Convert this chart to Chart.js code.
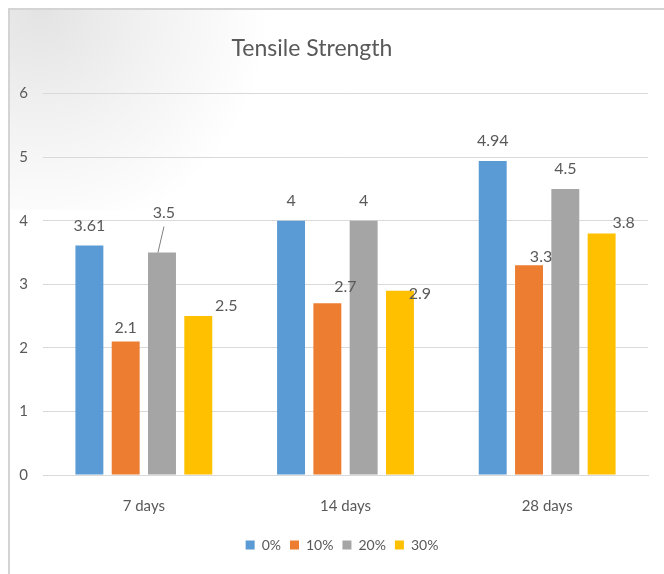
<!DOCTYPE html>
<html>
<head>
<meta charset="utf-8">
<script src="https://cdn.jsdelivr.net/npm/chart.js@4/dist/chart.umd.min.js"></script>
<style>
	html, body { margin: 0; padding: 0; background: #fff; }
	#wrap { width: 664px; height: 574px; position: relative; }
</style>
</head>
<body>
<div id="wrap"><canvas id="myChart"></canvas></div>
<script>
const categories = ['7 days', '14 days', '28 days']
const seriesNames = ['0%', '10%', '20%', '30%']
const pct0 = [3.61, 4, 4.94]
const pct10 = [2.1, 2.7, 3.3]
const pct20 = [3.5, 4, 4.5]
const pct30 = [2.5, 2.9, 3.8]
const yTicks = [0, 1, 2, 3, 4, 5, 6]

const barColors = ['#5B9BD5', '#ED7D31', '#A5A5A5', '#FFC000']
const textColor = '#595959'
const fontFamily = 'Lato, "Open Sans", sans-serif'

// label nudges [dx, dy] per dataset / category, like the hand moved labels in Excel
const labelNudge = [
	[[0, 0], [0, 0], [0, 0]],
	[[0, 6], [18, 3], [12, 12]],
	[[2, -20], [0, 0], [0, 0]],
	[[28, 10], [20, 23], [22, 9]]
]

// background frame + top-left shading
const framePlugin = {
	id: 'frame',
	beforeDraw(chart) {
		const ctx = chart.ctx
		ctx.save()
		ctx.fillStyle = '#fff'
		ctx.fillRect(0, 0, chart.width, chart.height)
		const g = ctx.createRadialGradient(40, 10, 0, 40, 10, 230)
		g.addColorStop(0, 'rgba(0,0,0,0.11)')
		g.addColorStop(0.5, 'rgba(0,0,0,0.05)')
		g.addColorStop(1, 'rgba(0,0,0,0)')
		ctx.fillStyle = g
		ctx.fillRect(10, 10, 300, 200)
		ctx.strokeStyle = '#d4d4d4'
		ctx.lineWidth = 2
		ctx.beginPath()
		ctx.moveTo(9, chart.height)
		ctx.lineTo(9, 9)
		ctx.lineTo(chart.width, 9)
		ctx.stroke()
		ctx.restore()
	},
	afterLayout(chart) {
		// legend sits centred under the plot, title a bit left of centre
		chart.legend.left += 36
		if (chart.titleBlock) chart.titleBlock.right -= 24
	}
}

const valueLabels = {
	id: 'valueLabels',
	afterDatasetsDraw(chart) {
		const ctx = chart.ctx
		ctx.save()
		ctx.font = '16px ' + fontFamily
		ctx.fillStyle = textColor
		ctx.textAlign = 'center'
		ctx.textBaseline = 'middle'
		chart.data.datasets.forEach((ds, i) => {
			chart.getDatasetMeta(i).data.forEach((bar, j) => {
				const [dx, dy] = labelNudge[i][j]
				const x = bar.x + dx
				const y = bar.y - 20 + dy
				if (dy < -10) {
					// leader line
					ctx.strokeStyle = '#7f7f7f'
					ctx.lineWidth = 1
					ctx.beginPath()
					ctx.moveTo(bar.x - 4, bar.y)
					ctx.lineTo(x, y + 14)
					ctx.stroke()
				}
				ctx.fillText(String(ds.data[j]), x, y)
			})
		})
		ctx.restore()
	}
}

const seriesData = [pct0, pct10, pct20, pct30]

let cfg = {
	type: 'bar',
	data: {
		labels: categories,
		datasets: seriesNames.map((name, i) => ({
			label: name,
			data: seriesData[i],
			backgroundColor: barColors[i],
			barPercentage: 0.77,
			categoryPercentage: 0.72
		}))
	},
	options: {
		responsive: true,
		maintainAspectRatio: false,
		animation: false,
		layout: { padding: { left: 0, right: 16, top: 0, bottom: 12 } },
		plugins: {
			title: {
				display: true,
				text: 'Tensile Strength',
				color: textColor,
				font: { family: fontFamily, size: 23, weight: 'normal' },
				padding: { top: 35, bottom: 31 }
			},
			legend: {
				position: 'bottom',
				labels: {
					color: textColor,
					font: { family: fontFamily, size: 14 },
					boxWidth: 9,
					boxHeight: 9,
					padding: 9
				}
			},
			tooltip: { enabled: false }
		},
		scales: {
			x: {
				grid: { display: false },
				border: { color: '#d9d9d9', width: 1 },
				ticks: { color: textColor, font: { family: fontFamily, size: 15 }, padding: 14 },
				afterFit: (s) => { s.height = 54 }
			},
			y: {
				min: 0,
				max: 6,
				afterBuildTicks: (s) => { s.ticks = yTicks.map(v => ({ value: v })) },
				grid: { color: '#d9d9d9', lineWidth: 1, drawTicks: false },
				border: { display: false },
				ticks: { color: textColor, font: { family: fontFamily, size: 15 }, padding: 15 },
				afterFit: (s) => { s.width = 43 }
			}
		}
	},
	plugins: [framePlugin, valueLabels]
}
new Chart('myChart', cfg)
</script>
</body>
</html>
